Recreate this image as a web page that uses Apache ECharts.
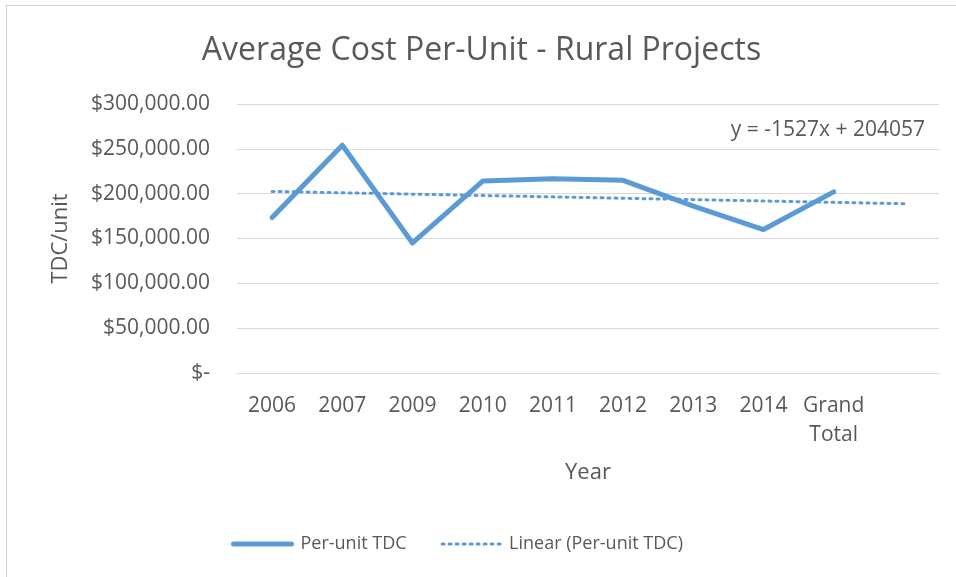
<!DOCTYPE html>
<html>
<head>
<meta charset="utf-8">
<script src="https://cdn.jsdelivr.net/npm/echarts@6/dist/echarts.min.js"></script>
<style>
  html, body { margin: 0; padding: 0; background: #fff; }
  #chart { position: absolute; left: 6px; top: 5px; width: 950px; height: 572px;
           border-left: 1px solid #d0d0d0; border-top: 1px solid #d0d0d0; box-sizing: border-box; }
</style>
</head>
<body>
<div id="chart"></div>
<script>
const categories = ['2006', '2007', '2009', '2010', '2011', '2012', '2013', '2014', 'Grand\nTotal', ''];
const perUnitTDC = [173300, 254000, 145000, 214000, 216700, 214900, 186000, 160000, 202000, null];
// trendline end points, straight line between them
const linearTrend = [202500, null, null, null, null, null, null, null, null, 188800];
const yTicks = { min: 0, max: 300000, interval: 50000 };
const trendEquation = 'y = -1527x + 204057';

const FONT = 'Open Sans';
const TEXT = '#595959';
const BLUE = '#5b9bd5';

const chart = echarts.init(document.getElementById('chart'));

function money(v) {
  if (v === 0) return '$-';
  return '$' + v.toLocaleString('en-US', { minimumFractionDigits: 2, maximumFractionDigits: 2 });
}

chart.setOption({
  animation: false,
  textStyle: { fontFamily: FONT, color: TEXT },
  title: {
    text: 'Average Cost Per-Unit - Rural Projects',
    left: 'center',
    top: 24,
    padding: [5, 5, 5, 17],
    textStyle: { fontFamily: FONT, fontSize: 32, fontWeight: 'normal', color: TEXT }
  },
  grid: { left: 230, right: 17, top: 98, bottom: 204 },
  legend: {
    left: 224,
    top: 529,
    padding: 0,
    itemWidth: 58,
    itemHeight: 14,
    itemGap: 34,
    itemStyle: { opacity: 0 },
    textStyle: { fontFamily: FONT, fontSize: 18, color: TEXT, padding: [0, 0, 0, 4] },
    data: [
      { name: 'Per-unit TDC', lineStyle: { width: 5 } },
      { name: 'Linear (Per-unit TDC)', lineStyle: { width: 3 } }
    ]
  },
  xAxis: {
    type: 'category',
    data: categories,
    boundaryGap: true,
    name: 'Year',
    nameLocation: 'middle',
    nameGap: 89,
    nameTextStyle: { fontFamily: FONT, fontSize: 22, color: TEXT },
    axisLine: { lineStyle: { color: '#d9d9d9', width: 1 } },
    axisTick: { show: false },
    axisLabel: { fontFamily: FONT, fontSize: 21, color: TEXT, margin: 19, interval: 0, lineHeight: 29 }
  },
  yAxis: {
    type: 'value',
    min: yTicks.min,
    max: yTicks.max,
    interval: yTicks.interval,
    name: 'TDC/unit',
    nameLocation: 'middle',
    nameRotate: 90,
    nameGap: 165,
    nameTextStyle: { fontFamily: FONT, fontSize: 22, color: TEXT },
    axisLine: { show: false },
    axisTick: { show: false },
    splitLine: { lineStyle: { color: '#d9d9d9', width: 1 } },
    axisLabel: { fontFamily: FONT, fontSize: 21, color: TEXT, margin: 27, formatter: money }
  },
  graphic: [{
    type: 'text',
    right: 31,
    top: 114,
    style: { text: trendEquation, fontFamily: FONT, fontSize: 21, fill: TEXT }
  }],
  series: [
    {
      name: 'Per-unit TDC',
      type: 'line',
      data: perUnitTDC,
      symbol: 'none',
      lineStyle: { color: BLUE, width: 5, cap: 'round', join: 'round' },
      itemStyle: { color: BLUE }
    },
    {
      name: 'Linear (Per-unit TDC)',
      type: 'line',
      data: linearTrend,
      connectNulls: true,
      symbol: 'none',
      lineStyle: { color: BLUE, width: 3, type: [2, 5], cap: 'round' },
      itemStyle: { color: BLUE }
    }
  ]
});
</script>
</body>
</html>
